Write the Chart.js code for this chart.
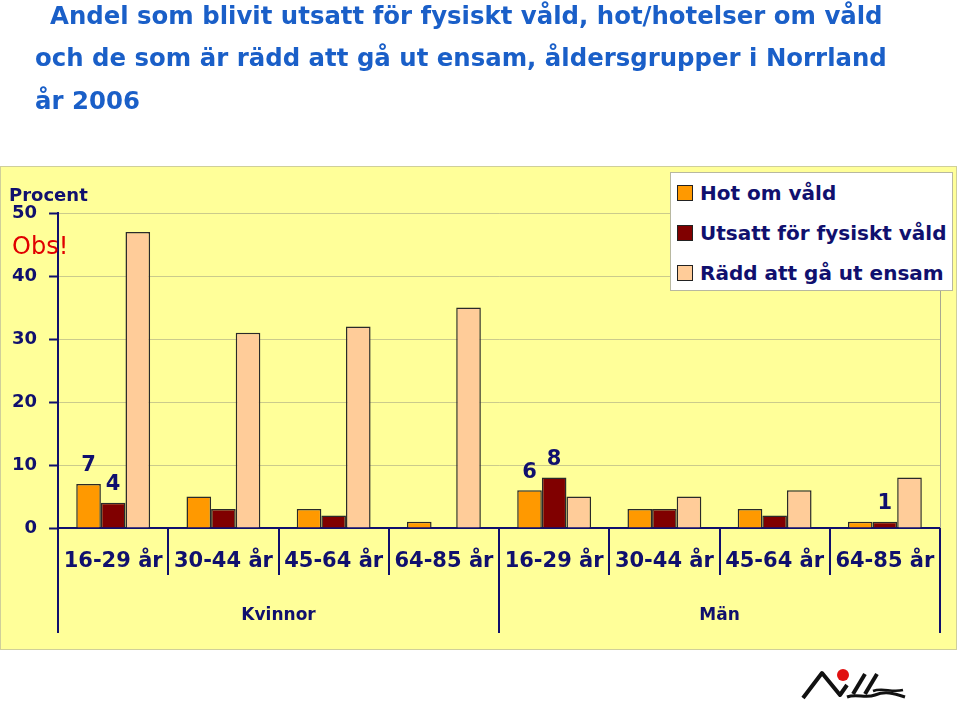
<!DOCTYPE html>
<html>
<head>
<meta charset="utf-8">
<script src="https://cdn.jsdelivr.net/npm/chart.js@4.4.1/dist/chart.umd.min.js"></script>
<style>
  html, body { margin: 0; padding: 0; background: #fff; }
  #wrap { position: relative; width: 960px; height: 703px; overflow: hidden; font-family: "DejaVu Sans", sans-serif; }
  #chart { position: absolute; left: 0; top: 0; }
  .title { position: absolute; color: #1a5fc8; font-size: 24.4px; font-weight: bold; white-space: nowrap; }
  #procent { position: absolute; left: 9px; top: 184px; color: #10106e; font-weight: bold; font-size: 18px; }
  #obs { position: absolute; left: 12px; top: 232px; color: #e00000; font-size: 24px; }
  #legend { position: absolute; left: 670px; top: 172px; width: 283px; height: 119px; background: #fff; border: 1px solid #b8b8a0; box-sizing: border-box; }
  .item { position: absolute; left: 6px; height: 24px; color: #10106e; font-weight: bold; font-size: 20px; white-space: nowrap; }
  .item span.box { position: absolute; left: 0; top: 4px; width: 14px; height: 14px; border: 1px solid #222; }
  .item span.txt { position: absolute; left: 23px; top: 0; }
  #logo { position: absolute; left: 795px; top: 663px; }
</style>
</head>
<body>
<div id="wrap">
  <canvas id="chart" width="960" height="703"></canvas>
  <div class="title" style="left:50px; top:1px;">Andel som blivit utsatt för fysiskt våld, hot/hotelser om våld</div>
  <div class="title" style="left:35px; top:43px;">och de som är rädd att gå ut ensam, åldersgrupper i Norrland</div>
  <div class="title" style="left:35px; top:86px;">år 2006</div>
  <div id="procent">Procent</div>
  <div id="obs">Obs!</div>
  <div id="legend"></div>
  <svg id="logo" width="120" height="40">
    <circle cx="48" cy="12" r="6" fill="#e01010"/>
    <polyline points="8,35 27,10 45,32 52,22" fill="none" stroke="#111" stroke-width="4" stroke-linejoin="round"/>
    <line x1="58" y1="31" x2="70" y2="11" stroke="#111" stroke-width="4"/>
    <line x1="70" y1="31" x2="82" y2="11" stroke="#111" stroke-width="4"/>
    <path d="M52,34 C62,30 70,36 80,32 S98,30 110,34" fill="none" stroke="#111" stroke-width="3"/>
    <path d="M78,28 C88,24 96,30 108,27" fill="none" stroke="#111" stroke-width="2.5"/>
  </svg>
</div>
<script>
  const categories = ['16-29 år', '30-44 år', '45-64 år', '64-85 år', '16-29 år', '30-44 år', '45-64 år', '64-85 år'];
  const groups = ['Kvinnor', 'Män'];
  const groupSize = 4;

  const seriesNames = ['Hot om våld', 'Utsatt för fysiskt våld', 'Rädd att gå ut ensam'];
  const seriesColors = ['#FF9900', '#800000', '#FFCC99'];
  const hotOmVald = [7, 5, 3, 1, 6, 3, 3, 1];
  const utsattVald = [4, 3, 2, 0, 8, 3, 2, 1];
  const raddEnsam = [47, 31, 32, 35, 5, 5, 6, 8];

  // which bars carry a value label
  const labelledHot = [0, 4];
  const labelledUtsatt = [0, 4, 7];
  const labelledRadd = [];

  const yMin = 0;
  const yMax = 50;
  const yStep = 10;

  const navy = '#10106e';
  const font = '"DejaVu Sans", sans-serif';

  const panelPlugin = {
    id: 'panel',
    beforeDraw(chart) {
      const ctx = chart.ctx;
      ctx.save();
      ctx.fillStyle = '#FFFF99';
      ctx.fillRect(0, 166, 957, 484);
      ctx.strokeStyle = '#cfcf9a';
      ctx.lineWidth = 1;
      ctx.strokeRect(0.5, 166.5, 956, 483);
      ctx.restore();
    }
  };

  const axisPlugin = {
    id: 'axisDecor',
    afterDraw(chart) {
      const ctx = chart.ctx;
      const area = chart.chartArea;
      const n = categories.length;
      const w = (area.right - area.left) / n;
      const xs = chart.scales.x;
      ctx.save();
      // plot area right edge
      ctx.strokeStyle = '#a8a890';
      ctx.lineWidth = 1;
      ctx.beginPath();
      ctx.moveTo(Math.round(area.right) + 0.5, area.top);
      ctx.lineTo(Math.round(area.right) + 0.5, area.bottom);
      ctx.stroke();
      // separators
      ctx.strokeStyle = navy;
      ctx.lineWidth = 2;
      for (let i = 0; i <= n; i++) {
        const x = Math.round(area.left + i * w);
        const len = (i % groupSize === 0) ? 105 : 47;
        ctx.beginPath();
        ctx.moveTo(x, area.bottom);
        ctx.lineTo(x, area.bottom + len);
        ctx.stroke();
      }
      // category labels
      ctx.fillStyle = navy;
      ctx.textAlign = 'center';
      ctx.textBaseline = 'middle';
      ctx.font = 'bold 21px ' + font;
      categories.forEach((c, i) => {
        ctx.fillText(c, xs.getPixelForValue(i), area.bottom + 34);
      });
      ctx.font = 'bold 17px ' + font;
      groups.forEach((g, gi) => {
        const x = area.left + (gi * groupSize + groupSize / 2) * w;
        ctx.fillText(g, x, area.bottom + 88);
      });
      ctx.restore();
    }
  };

  const valueLabelPlugin = {
    id: 'valueLabels',
    afterDatasetsDraw(chart) {
      const ctx = chart.ctx;
      const lists = [labelledHot, labelledUtsatt, labelledRadd];
      ctx.save();
      ctx.fillStyle = navy;
      ctx.font = 'bold 21px ' + font;
      ctx.textAlign = 'center';
      ctx.textBaseline = 'middle';
      lists.forEach((idx, di) => {
        const meta = chart.getDatasetMeta(di);
        const data = chart.data.datasets[di].data;
        idx.forEach(i => {
          const bar = meta.data[i];
          ctx.fillText(String(data[i]), bar.x, bar.y - 18);
        });
      });
      ctx.restore();
    }
  };

  const chart = new Chart(document.getElementById('chart').getContext('2d'), {
    type: 'bar',
    data: {
      labels: categories,
      datasets: [
        { label: seriesNames[0], data: hotOmVald, backgroundColor: seriesColors[0] },
        { label: seriesNames[1], data: utsattVald, backgroundColor: seriesColors[1] },
        { label: seriesNames[2], data: raddEnsam, backgroundColor: seriesColors[2] }
      ].map(d => Object.assign(d, {
        borderColor: '#2a2a2a',
        borderWidth: 1.5,
        categoryPercentage: 0.67,
        barPercentage: 1.0
      }))
    },
    options: {
      responsive: false,
      animation: false,
      layout: { padding: { top: 213, right: 20, bottom: 167, left: 0 } },
      plugins: {
        legend: { display: false },
        tooltip: { enabled: false }
      },
      scales: {
        x: {
          grid: { display: false },
          ticks: { display: false },
          border: { color: navy, width: 2 }
        },
        y: {
          min: yMin,
          max: yMax,
          ticks: {
            stepSize: yStep,
            color: navy,
            padding: 12,
            font: { family: font, size: 18, weight: 'bold' }
          },
          grid: {
            color: 'rgba(160,160,130,0.55)',
            tickColor: navy,
            tickLength: 9,
            lineWidth: 1,
            tickWidth: 2
          },
          border: { color: navy, width: 2 }
        }
      }
    },
    plugins: [panelPlugin, axisPlugin, valueLabelPlugin]
  });

  // legend built from the datasets
  const legendEl = document.getElementById('legend');
  chart.data.datasets.forEach((ds, i) => {
    const item = document.createElement('div');
    item.className = 'item';
    item.style.top = (8 + i * 40) + 'px';
    item.innerHTML = '<span class="box" style="background:' + ds.backgroundColor + '"></span><span class="txt">' + ds.label + '</span>';
    legendEl.appendChild(item);
  });
</script>
</body>
</html>
